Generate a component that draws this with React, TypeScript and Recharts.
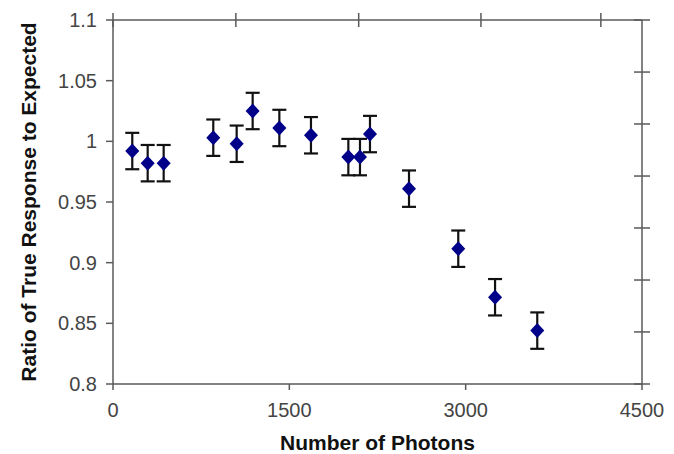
import React from 'react';
import { ScatterChart, Scatter, XAxis, YAxis, ErrorBar } from 'recharts';

const photons = [164, 295, 431, 853, 1052, 1188, 1415, 1684, 2002, 2101, 2186, 2518, 2937, 3250, 3609];
const ratios = [0.992, 0.982, 0.982, 1.003, 0.998, 1.025, 1.011, 1.005, 0.987, 0.987, 1.006, 0.961, 0.9115, 0.8715, 0.844];
const errors = [0.015, 0.015, 0.015, 0.015, 0.015, 0.015, 0.015, 0.015, 0.015, 0.015, 0.015, 0.015, 0.015, 0.015, 0.015];

const xTicks = [0, 1500, 3000, 4500];
const yTicks = [0.8, 0.85, 0.9, 0.95, 1, 1.05, 1.1];
const topTicks = [0, 1045, 2090, 3130, 4150];
const rightTicks = [0.8, 0.8429, 0.8857, 0.9286, 0.9714, 1.0143, 1.0571, 1.1];

const xLabel = 'Number of Photons';
const yLabel = 'Ratio of True Response to Expected';

const data = photons.map((x, i) => ({ x, y: ratios[i], err: errors[i] }));

const AXIS = '#5a5a5a';
const FONT = '"Liberation Sans", Arial, sans-serif';

const Diamond = (props: any) => {
  const { cx, cy } = props;
  if (cx == null || cy == null) return null;
  const w = 7, h = 7.5;
  return (
    <polygon
      points={`${cx},${cy - h} ${cx + w},${cy} ${cx},${cy + h} ${cx - w},${cy}`}
      fill="#000088"
    />
  );
};

const Nothing = () => <g />;

const TopTick = (props: any) => {
  const { x, y } = props;
  return <line x1={x} y1={y - 7} x2={x} y2={y + 7} stroke={AXIS} strokeWidth={1.5} />;
};

const RightTick = (props: any) => {
  const { x, y } = props;
  return <line x1={x - 8} y1={y} x2={x + 8} y2={y} stroke={AXIS} strokeWidth={1.5} />;
};

const YLabel = (props: any) => {
  const vb = props.viewBox || {};
  const cx = (vb.x || 0) + 36;
  const cy = (vb.y || 0) + (vb.height || 0) / 2;
  return (
    <text
      x={cx}
      y={cy}
      transform={`rotate(-90, ${cx}, ${cy})`}
      textAnchor="middle"
      fontFamily={FONT}
      fontWeight="bold"
      fontSize={21}
      fill="#111"
    >
      {yLabel}
    </text>
  );
};

export default function App() {
  return (
    <div style={{ position: 'absolute', left: 0, top: 0, background: '#fff' }}>
      <ScatterChart
        width={674}
        height={454}
        margin={{ top: 19, right: 31, bottom: 0, left: 0 }}
      >
        <XAxis
          xAxisId="bottom"
          dataKey="x"
          type="number"
          domain={[0, 4500]}
          ticks={xTicks}
          orientation="bottom"
          height={70}
          stroke={AXIS}
          strokeWidth={1.5}
          tickSize={6}
          tickMargin={13}
          tick={{ fill: '#444', fontSize: 20, fontFamily: FONT }}
          label={{
            value: xLabel,
            position: 'insideBottom',
            offset: 4,
            style: { fontFamily: FONT, fontWeight: 'bold', fontSize: 21, fill: '#111' },
          }}
        />
        <XAxis
          xAxisId="top"
          dataKey="x"
          type="number"
          domain={[0, 4500]}
          ticks={topTicks}
          orientation="top"
          height={1}
          stroke={AXIS}
          strokeWidth={1.5}
          tickSize={0}
          tickMargin={0}
          tickLine={false}
          tick={<TopTick />}
        />
        <YAxis
          yAxisId="left"
          dataKey="y"
          type="number"
          domain={[0.8, 1.1]}
          ticks={yTicks}
          width={113}
          stroke={AXIS}
          strokeWidth={1.5}
          tickSize={7}
          tickMargin={9}
          tick={{ fill: '#444', fontSize: 20, fontFamily: FONT }}
          label={<YLabel />}
        />
        <YAxis
          yAxisId="right"
          dataKey="y"
          type="number"
          domain={[0.8, 1.1]}
          ticks={rightTicks}
          orientation="right"
          width={1}
          stroke={AXIS}
          strokeWidth={1.5}
          tickSize={0}
          tickMargin={0}
          tickLine={false}
          tick={<RightTick />}
        />
        <Scatter
          data={data}
          xAxisId="top"
          yAxisId="right"
          isAnimationActive={false}
          shape={<Nothing />}
        />
        <Scatter
          data={data}
          xAxisId="bottom"
          yAxisId="left"
          isAnimationActive={false}
          shape={<Diamond />}
        >
          <ErrorBar dataKey="err" direction="y" width={7} stroke="#111" strokeWidth={2.2} />
        </Scatter>
      </ScatterChart>
    </div>
  );
}
